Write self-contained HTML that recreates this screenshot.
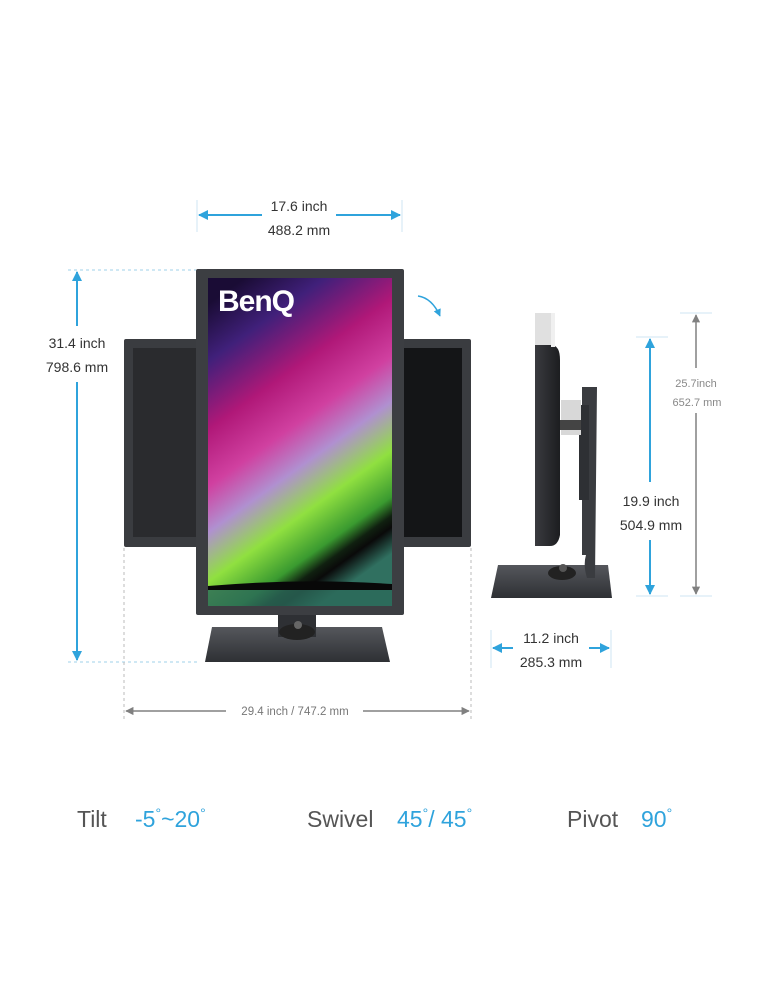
<!DOCTYPE html>
<html><head><meta charset="utf-8"><style>
html,body{margin:0;padding:0;background:#fff;}
svg{display:block;font-family:"Liberation Sans",sans-serif;}
</style></head><body>
<svg width="771" height="1000" viewBox="0 0 771 1000" xmlns="http://www.w3.org/2000/svg">
<defs>
<linearGradient id="scr" x1="0.2" y1="0" x2="0.6" y2="1">
<stop offset="0" stop-color="#1a0c35"/>
<stop offset="0.15" stop-color="#40207a"/>
<stop offset="0.33" stop-color="#b01878"/>
<stop offset="0.48" stop-color="#d040a0"/>
<stop offset="0.6" stop-color="#b090d0"/>
<stop offset="0.73" stop-color="#90e040"/>
<stop offset="0.85" stop-color="#3a9a30"/>
<stop offset="0.9" stop-color="#102010"/>
<stop offset="0.93" stop-color="#0a0a0a"/>
<stop offset="1" stop-color="#307060"/>
</linearGradient>
<linearGradient id="side" x1="0" y1="0" x2="1" y2="0">
<stop offset="0" stop-color="#3a3b3f"/><stop offset="1" stop-color="#1c1d20"/>
</linearGradient>
<linearGradient id="base" x1="0" y1="0" x2="0" y2="1">
<stop offset="0" stop-color="#55575c"/><stop offset="1" stop-color="#2e3034"/>
</linearGradient>
<marker id="ab" viewBox="0 0 10 10" refX="9" refY="5" markerWidth="5" markerHeight="5" orient="auto-start-reverse"><path d="M0,0L10,5L0,10z" fill="#2fa3dc"/></marker>
<marker id="ag" viewBox="0 0 10 10" refX="9" refY="5" markerWidth="5.5" markerHeight="5.5" orient="auto-start-reverse"><path d="M0,0L10,5L0,10z" fill="#808080"/></marker>
</defs>

<g stroke="#9fd0ea" stroke-width="1" stroke-dasharray="3,3" fill="none">
<line x1="68" y1="270" x2="196" y2="270"/>
<line x1="68" y1="662" x2="200" y2="662"/>
</g>
<g stroke="#bbb" stroke-width="1" stroke-dasharray="3,3" fill="none">
<line x1="124" y1="548" x2="124" y2="722"/>
<line x1="471" y1="548" x2="471" y2="722"/>
</g>
<g stroke="#cfe6f3" stroke-width="1">
<line x1="197" y1="200" x2="197" y2="232"/>
<line x1="402" y1="200" x2="402" y2="232"/>
<line x1="491" y1="630" x2="491" y2="668"/>
<line x1="611" y1="630" x2="611" y2="668"/>
<line x1="636" y1="337" x2="668" y2="337"/>
<line x1="636" y1="596" x2="668" y2="596"/>
<line x1="680" y1="313" x2="712" y2="313"/>
<line x1="680" y1="596" x2="712" y2="596"/>
</g>

<rect x="124" y="339" width="75" height="208" rx="2" fill="#3a3c40"/>
<rect x="133" y="348" width="66" height="189" fill="#2a2b2e"/>
<rect x="401" y="339" width="70" height="208" rx="2" fill="#3a3c40"/>
<rect x="401" y="348" width="61" height="189" fill="#141517"/>

<path d="M212,627 L382,627 L390,662 L205,662 Z" fill="url(#base)"/>
<rect x="278" y="612" width="38" height="25" fill="#2e3034"/>
<ellipse cx="297" cy="632" rx="18" ry="8" fill="#222"/>
<circle cx="298" cy="625" r="4" fill="#666"/>

<rect x="196" y="269" width="208" height="346" rx="2" fill="#3c3e42"/>
<rect x="208" y="278" width="184" height="328" fill="url(#scr)"/>
<rect x="208" y="586" width="184" height="20" fill="#2c6a5a" opacity="0.8"/>
<path d="M208,586 Q300,578 392,584 L392,590 L208,590Z" fill="#080808"/>
<text x="218" y="311" font-size="30" font-weight="bold" fill="#fff" letter-spacing="-1">BenQ</text>

<path d="M418,296 Q432,298 440,316" stroke="#2fa3dc" stroke-width="1.5" fill="none" marker-end="url(#ab)"/>

<line x1="199" y1="215" x2="262" y2="215" stroke="#2fa3dc" stroke-width="2" marker-start="url(#ab)"/>
<line x1="336" y1="215" x2="400" y2="215" stroke="#2fa3dc" stroke-width="2" marker-end="url(#ab)"/>
<g font-size="14" fill="#333" text-anchor="middle">
<text x="299" y="211">17.6 inch</text>
<text x="299" y="235">488.2 mm</text>
</g>

<line x1="77" y1="272" x2="77" y2="326" stroke="#2fa3dc" stroke-width="2" marker-start="url(#ab)"/>
<line x1="77" y1="382" x2="77" y2="660" stroke="#2fa3dc" stroke-width="2" marker-end="url(#ab)"/>
<g font-size="14" fill="#333" text-anchor="middle">
<text x="77" y="348">31.4 inch</text>
<text x="77" y="372">798.6 mm</text>
</g>

<line x1="126" y1="711" x2="226" y2="711" stroke="#808080" stroke-width="1.5" marker-start="url(#ag)"/>
<line x1="363" y1="711" x2="469" y2="711" stroke="#808080" stroke-width="1.5" marker-end="url(#ag)"/>
<text x="295" y="715" font-size="11.5" fill="#777" text-anchor="middle">29.4 inch / 747.2 mm</text>

<path d="M498,565 L608,565 L612,598 L491,598 Z" fill="url(#base)"/>
<ellipse cx="562" cy="573" rx="14" ry="7" fill="#222"/>
<circle cx="563" cy="568" r="4" fill="#555"/>
<path d="M582,387 L597,387 L595,578 L587,578 Q583,565 586,555 L582,555 Z" fill="#3a3c40"/>
<rect x="579" y="405" width="10" height="95" fill="#2e3034"/>
<rect x="561" y="400" width="20" height="35" fill="#d8d8d8"/>
<rect x="555" y="420" width="26" height="10" fill="#444"/>
<rect x="535" y="313" width="16" height="32" fill="#e0e0e0"/>
<path d="M535,345 L551,345 Q560,345 560,360 L560,535 Q558,546 550,546 L535,546 Z" fill="url(#side)"/>
<rect x="551" y="313" width="4" height="34" fill="#f0f0f0"/>

<line x1="650" y1="339" x2="650" y2="482" stroke="#2fa3dc" stroke-width="2" marker-start="url(#ab)"/>
<line x1="650" y1="540" x2="650" y2="594" stroke="#2fa3dc" stroke-width="2" marker-end="url(#ab)"/>
<g font-size="14" fill="#333" text-anchor="middle">
<text x="651" y="506">19.9 inch</text>
<text x="651" y="530">504.9 mm</text>
</g>
<line x1="696" y1="315" x2="696" y2="368" stroke="#808080" stroke-width="1.5" marker-start="url(#ag)"/>
<line x1="696" y1="413" x2="696" y2="594" stroke="#808080" stroke-width="1.5" marker-end="url(#ag)"/>
<g font-size="11" fill="#888" text-anchor="middle">
<text x="696" y="387">25.7inch</text>
<text x="697" y="406">652.7 mm</text>
</g>
<line x1="493" y1="648" x2="513" y2="648" stroke="#2fa3dc" stroke-width="2" marker-start="url(#ab)"/>
<line x1="589" y1="648" x2="609" y2="648" stroke="#2fa3dc" stroke-width="2" marker-end="url(#ab)"/>
<g font-size="14" fill="#333" text-anchor="middle">
<text x="551" y="643">11.2 inch</text>
<text x="551" y="667">285.3 mm</text>
</g>

<g font-size="23">
<text x="77" y="827" fill="#555">Tilt</text>
<text x="135" y="827" fill="#2fa3dc">-5<tspan font-size="14" dy="-9">°</tspan><tspan dy="9">~20</tspan><tspan font-size="14" dy="-9">°</tspan></text>
<text x="307" y="827" fill="#555">Swivel</text>
<text x="397" y="827" fill="#2fa3dc">45<tspan font-size="14" dy="-9">°</tspan><tspan dy="9">/ 45</tspan><tspan font-size="14" dy="-9">°</tspan></text>
<text x="567" y="827" fill="#555">Pivot</text>
<text x="641" y="827" fill="#2fa3dc">90<tspan font-size="14" dy="-9">°</tspan></text>
</g>
</svg>
</body></html>
